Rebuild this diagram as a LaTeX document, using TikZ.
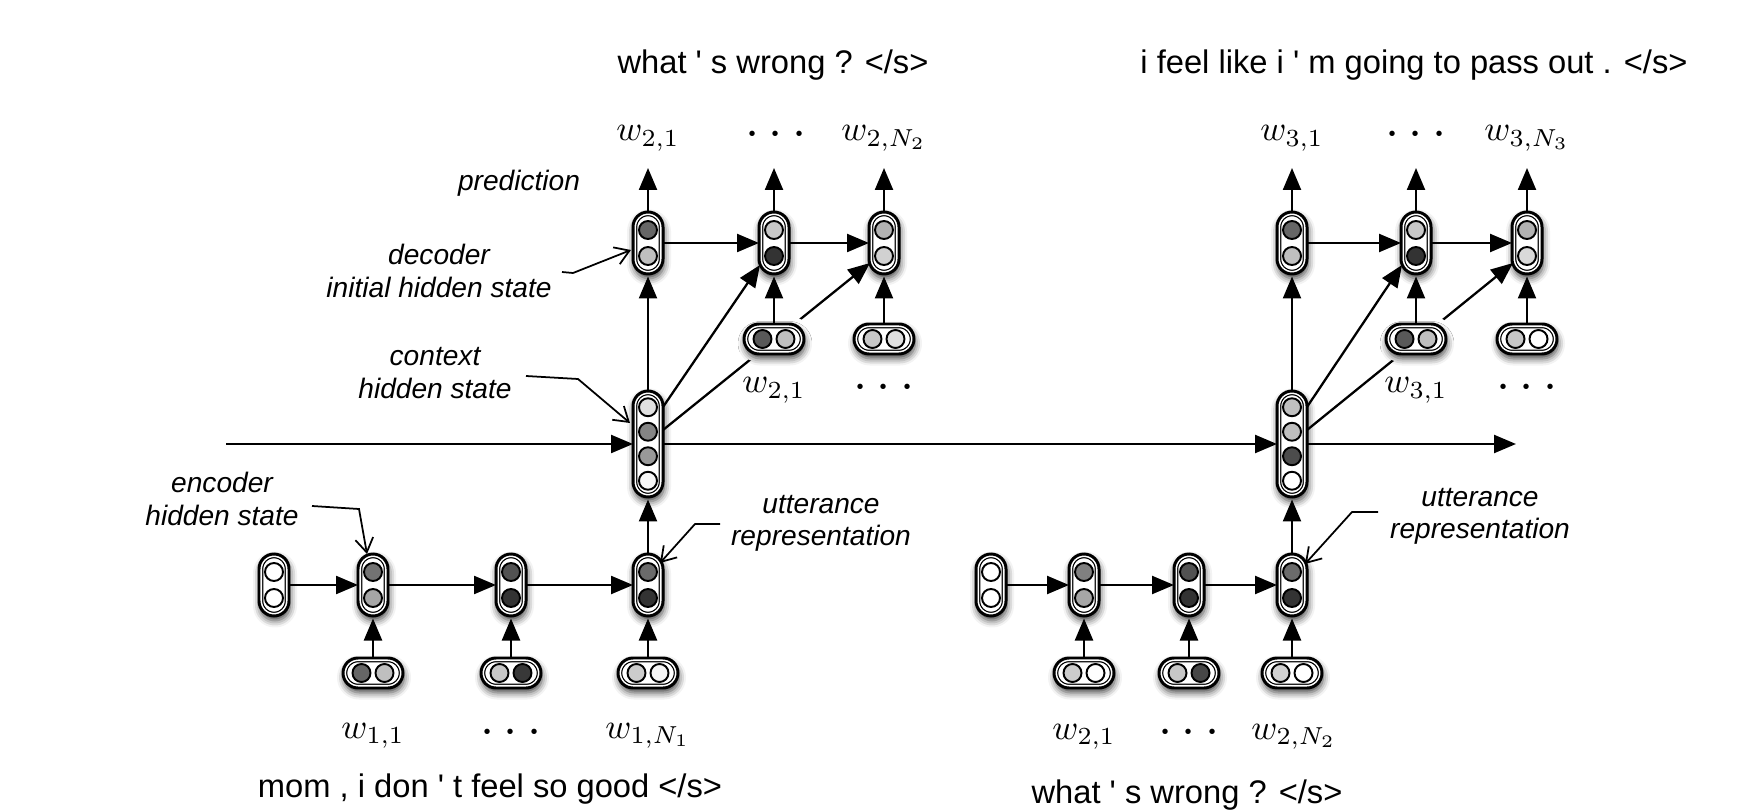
\documentclass[tikz,border=0pt]{standalone}
\usepackage[no-math]{fontspec}
\newfontfamily\hel[Ligatures=TeXOff]{Liberation Sans}
\usetikzlibrary{arrows.meta,calc,shadows.blur}
\pgfdeclarelayer{bg}
\pgfdeclarelayer{mid}
\pgfsetlayers{bg,mid,main}

\tikzset{
  pillbase/.style={rectangle, rounded corners=1.5mm, inner sep=0pt, outer sep=0pt,
    draw=black, line width=0.85pt, fill=white,
    blur shadow={shadow xshift=0.1mm, shadow yshift=-0.45mm, shadow blur radius=0.7mm, shadow opacity=75},
    path picture={
      \draw[black, line width=2.45pt, rounded corners=1.5mm] (path picture bounding box.south west) rectangle (path picture bounding box.north east);
      \draw[white, line width=1.75pt, rounded corners=1.5mm] (path picture bounding box.south west) rectangle (path picture bounding box.north east);
    }},
  vpillbox/.style={pillbase, minimum width=3mm, minimum height=6.2mm},
  cpillbox/.style={pillbase, minimum width=3mm, minimum height=10.6mm},
  hpillbox/.style={pillbase, minimum width=6mm, minimum height=3mm},
  halofill/.style={fill=white, rounded corners=2.3mm},
  cell/.style={circle, draw=black, line width=0.55pt, minimum size=1.8mm, inner sep=0pt},
  conn/.style={line width=0.65pt, -{Triangle[length=2.2mm,width=1.8mm]}},
  connv/.style={conn, shorten >=0.25mm},
  note/.style={line width=0.5pt, -{Straight Barb[length=1.4mm,width=1.8mm]}},
  sent/.style={font=\hel\fontsize{9.3}{11}\selectfont, anchor=base, inner sep=0pt},
  lab/.style={font=\hel\itshape\fontsize{8}{9.2}\selectfont, align=center, inner sep=0pt},
  wlab/.style={font=\fontsize{10}{12}\selectfont, anchor=base, inner sep=0pt},
  dotlab/.style={font=\fontsize{14}{16}\selectfont, anchor=base, inner sep=0pt},
}

\newcommand\vpill[5]{%
  \node[vpillbox] (#1) at (#2,#3) {};
  \node[cell, fill=black!#4] (#1a) at (#2,#3-13) {};
  \node[cell, fill=black!#5] (#1b) at (#2,#3+13) {};
}
\newcommand\hpill[5]{%
  \node[hpillbox] (#1) at (#2,#3) {};
  \node[cell, fill=black!#4] (#1a) at (#2-11.5,#3) {};
  \node[cell, fill=black!#5] (#1b) at (#2+11.5,#3) {};
}
\newcommand\cpill[7]{%
  \node[cpillbox] (#1) at (#2,#3) {};
  \node[cell, fill=black!#4] (#1a) at (#2,#3-36.75) {};
  \node[cell, fill=black!#5] (#1b) at (#2,#3-12.25) {};
  \node[cell, fill=black!#6] (#1c) at (#2,#3+12.25) {};
  \node[cell, fill=black!#7] (#1d) at (#2,#3+36.75) {};
}
\newcommand\threedots{${\cdot}\mkern3.4mu{\cdot}\mkern3.4mu{\cdot}$}

\begin{document}
\begin{tikzpicture}[x=0.1mm, y=-0.1mm]
\useasboundingbox (0,0) rectangle (1742,811);

% ---------- pills: left utterance encoder ----------
\vpill{ei1}{274}{585}{0}{0}
\vpill{ea1}{373}{585}{55}{35}
\vpill{ea2}{511}{585}{68}{80}
\vpill{ea3}{648}{585}{58}{80}
\hpill{xa1}{373}{673}{60}{25}
\hpill{xa2}{511}{673}{22}{78}
\hpill{xa3}{648}{673}{20}{4}

% ---------- pills: right utterance encoder ----------
\vpill{ei2}{991}{585}{0}{0}
\vpill{eb1}{1084}{585}{50}{35}
\vpill{eb2}{1189}{585}{68}{80}
\vpill{eb3}{1292}{585}{58}{80}
\hpill{xb1}{1084}{673}{20}{0}
\hpill{xb2}{1189}{673}{22}{72}
\hpill{xb3}{1292}{673}{18}{0}

% ---------- context ----------
\cpill{c1}{648}{444}{12}{48}{40}{3}
\cpill{c2}{1292}{444}{25}{25}{70}{0}

% ---------- decoders ----------
\vpill{da1}{648}{243}{60}{25}
\vpill{da2}{774}{243}{22}{80}
\vpill{da3}{884}{243}{30}{18}
\hpill{ya2}{774}{339}{65}{25}
\hpill{ya3}{884}{339}{22}{12}

\vpill{db1}{1292}{243}{60}{25}
\vpill{db2}{1416}{243}{22}{80}
\vpill{db3}{1527}{243}{30}{15}
\hpill{yb2}{1416}{339}{65}{25}
\hpill{yb3}{1527}{339}{22}{0}

% ---------- lines passing behind word pills ----------
\begin{pgfonlayer}{bg}
\draw[conn] ($(c1.east)+(0,-14)$) -- ($(da3)+(-14,20)$);
\draw[conn] ($(c2.east)+(0,-14)$) -- ($(db3)+(-14,20)$);
\end{pgfonlayer}
\begin{pgfonlayer}{mid}
\path[halofill] ($(ya2.south west)+(-8,8)$) rectangle ($(ya2.north east)+(8,-8)$);
\path[halofill] ($(yb2.south west)+(-8,8)$) rectangle ($(yb2.north east)+(8,-8)$);
\end{pgfonlayer}

% ---------- context line ----------
\coordinate (hs) at (226,444);
\coordinate (he) at (1516,444);
\draw[conn] (hs) -- (c1.west);
\draw[conn] (c1.east) -- (c2.west);
\draw[conn] (c2.east) -- (he);

% ---------- encoder connectors ----------
\draw[conn] (ei1) -- (ea1);
\draw[conn] (ea1) -- (ea2);
\draw[conn] (ea2) -- (ea3);
\draw[connv] (xa1) -- (ea1);
\draw[connv] (xa2) -- (ea2);
\draw[connv] (xa3) -- (ea3);
\draw[connv] (ea3) -- (c1);

\draw[conn] (ei2) -- (eb1);
\draw[conn] (eb1) -- (eb2);
\draw[conn] (eb2) -- (eb3);
\draw[connv] (xb1) -- (eb1);
\draw[connv] (xb2) -- (eb2);
\draw[connv] (xb3) -- (eb3);
\draw[connv] (eb3) -- (c2);

% ---------- decoder connectors ----------
\draw[connv] (c1) -- (da1);
\draw[conn] ($(c1.east)+(0,-37)$) -- ($(da2)+(-14,22)$);
\draw[conn] (da1) -- (da2);
\draw[conn] (da2) -- (da3);
\draw[connv] (ya2) -- (da2);
\draw[connv] (ya3) -- (da3);
\coordinate (pa1) at (648,168);
\coordinate (pa2) at (774,168);
\coordinate (pa3) at (884,168);
\draw[conn] (da1) -- (pa1);
\draw[conn] (da2) -- (pa2);
\draw[conn] (da3) -- (pa3);

\draw[connv] (c2) -- (db1);
\draw[conn] ($(c2.east)+(0,-37)$) -- ($(db2)+(-14,22)$);
\draw[conn] (db1) -- (db2);
\draw[conn] (db2) -- (db3);
\draw[connv] (yb2) -- (db2);
\draw[connv] (yb3) -- (db3);
\coordinate (pb1) at (1292,168);
\coordinate (pb2) at (1416,168);
\coordinate (pb3) at (1527,168);
\draw[conn] (db1) -- (pb1);
\draw[conn] (db2) -- (pb2);
\draw[conn] (db3) -- (pb3);

% ---------- sentences ----------
\node[sent] (s1) at (773,74) {what ' s wrong ? </s>};
\node[sent] (s2) at (1414,74) {i feel like i ' m going to pass out . </s>};
\node[sent] (s3) at (490,797) {mom , i don ' t feel so good </s>};
\node[sent] (s4) at (1187,803) {what ' s wrong ? </s>};

% ---------- word labels ----------
\node[wlab] (l1) at (648,141) {$w_{2,1}$};
\node[dotlab] (l2) at (776,147) {\threedots};
\node[wlab] (l3) at (884,141) {$w_{2,N_2}$};
\node[wlab] (l4) at (774,393) {$w_{2,1}$};
\node[dotlab] (l5) at (884,400) {\threedots};
\node[wlab] (l6) at (1292,141) {$w_{3,1}$};
\node[dotlab] (l7) at (1416,147) {\threedots};
\node[wlab] (l8) at (1527,141) {$w_{3,N_3}$};
\node[wlab] (l9) at (1416,393) {$w_{3,1}$};
\node[dotlab] (l10) at (1527,400) {\threedots};
\node[wlab] (l11) at (373,738) {$w_{1,1}$};
\node[dotlab] (l12) at (511,744) {\threedots};
\node[wlab] (l13) at (648,738) {$w_{1,N_1}$};
\node[wlab] (l14) at (1084,739) {$w_{2,1}$};
\node[dotlab] (l15) at (1189,744) {\threedots};
\node[wlab] (l16) at (1294,739) {$w_{2,N_2}$};

% ---------- annotations ----------
\node[lab] (tpred) at (519,183) {prediction};
\node[lab] (tdec) at (439,271) {decoder\\initial hidden state};
\node[lab] (tctx) at (435,373) {context\\hidden state};
\node[lab] (tenc) at (222,499) {encoder\\hidden state};
\node[lab] (tut1) at (821,523) {utterance\\representation};
\node[lab] (tut2) at (1480,516) {utterance\\representation};

\coordinate (nb1) at (562,272);
\coordinate (nb2) at (573,273);
\draw[note] (nb1) -- (nb2) -- ($(da1.west)+(-2,7)$);
\coordinate (nc1) at (526,376);
\coordinate (nc2) at (578,379);
\draw[note] (nc1) -- (nc2) -- ($(c1.west)+(-3,-21)$);
\coordinate (na1) at (312,506);
\coordinate (na2) at (359,509);
\draw[note] (na1) -- (na2) -- ($(ea1.north)+(-6,0)$);
\coordinate (nd1) at (720,524);
\coordinate (nd2) at (695,524);
\draw[note] (nd1) -- (nd2) -- ($(ea3)+(12,-22)$);
\coordinate (ne1) at (1378,512);
\coordinate (ne2) at (1352,512);
\draw[note] (ne1) -- (ne2) -- ($(eb3)+(13,-21)$);
\end{tikzpicture}
\end{document}
